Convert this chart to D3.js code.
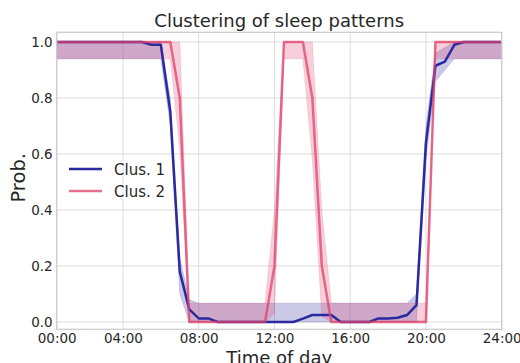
<!DOCTYPE html>
<html>
<head>
<meta charset="utf-8">
<script src="https://cdn.jsdelivr.net/npm/d3@7"></script>
<style>
  body { margin: 0; background: #fff; }
  text { font-family: "DejaVu Sans", sans-serif; fill: #262626; }
</style>
</head>
<body>
<div id="chart"></div>
<script>
// half-hour slots 0..47
const tickSlots  = [0, 7, 15, 23, 31, 39, 47];
const tickLabels = ['00:00', '04:00', '08:00', '12:00', '16:00', '20:00', '24:00'];
const yTicks     = [0, 0.2, 0.4, 0.6, 0.8, 1.0];

const clus1 = [1, 1, 1, 1, 1, 1, 1, 1, 1, 1, 0.99, 0.99,
               0.75, 0.18, 0.045, 0.013, 0.013, 0, 0, 0, 0, 0, 0, 0,
               0, 0, 0.012, 0.025, 0.025, 0.025, 0, 0, 0, 0, 0.013, 0.013,
               0.015, 0.025, 0.06, 0.64, 0.915, 0.93, 0.99, 1, 1, 1, 1, 1];
const clus1Lo = [0.94, 0.94, 0.94, 0.94, 0.94, 0.94, 0.94, 0.94, 0.94, 0.94, 0.94, 0.94,
                 0.7, 0.1, 0, 0, 0, 0, 0, 0, 0, 0, 0, 0,
                 0, 0, 0, 0, 0, 0, 0, 0, 0, 0, 0, 0,
                 0, 0, 0, 0.58, 0.86, 0.9, 0.94, 0.94, 0.94, 0.94, 0.94, 0.94];
const clus1Hi = [1, 1, 1, 1, 1, 1, 1, 1, 1, 1, 1, 1,
                 0.8, 0.23, 0.08, 0.067, 0.067, 0.067, 0.067, 0.067, 0.067, 0.067, 0.067, 0.067,
                 0.067, 0.067, 0.067, 0.067, 0.067, 0.067, 0.067, 0.067, 0.067, 0.067, 0.067, 0.067,
                 0.067, 0.067, 0.1, 0.7, 0.96, 0.98, 1, 1, 1, 1, 1, 1];

const clus2 = [1, 1, 1, 1, 1, 1, 1, 1, 1, 1, 1, 1,
               1, 0.8, 0, 0, 0, 0, 0, 0, 0, 0, 0, 0.2,
               1, 1, 1, 0.8, 0.2, 0, 0, 0, 0, 0, 0, 0,
               0, 0, 0, 0, 1, 1, 1, 1, 1, 1, 1, 1];
const clus2Lo = [0.94, 0.94, 0.94, 0.94, 0.94, 0.94, 0.94, 0.94, 0.94, 0.94, 0.94, 0.94,
                 0.94, 0.62, 0, 0, 0, 0, 0, 0, 0, 0, 0, 0.03,
                 0.94, 0.94, 0.94, 0.58, 0.02, 0, 0, 0, 0, 0, 0, 0,
                 0, 0, 0, 0, 0.94, 0.94, 0.94, 0.94, 0.94, 0.94, 0.94, 0.94];
const clus2Hi = [1, 1, 1, 1, 1, 1, 1, 1, 1, 1, 1, 1,
                 1, 1, 0.067, 0.067, 0.067, 0.067, 0.067, 0.067, 0.067, 0.067, 0.067, 0.4,
                 1, 1, 1, 1, 0.4, 0.067, 0.067, 0.067, 0.067, 0.067, 0.067, 0.067,
                 0.067, 0.067, 0.067, 0.067, 1, 1, 1, 1, 1, 1, 1, 1];

const seriesNames = ['Clus. 1', 'Clus. 2'];

const width = 520, height = 363;
const margin = { top: 32.3, right: 18.3, bottom: 33.7, left: 56.7 };

const svg = d3.select('#chart').append('svg')
  .attr('width', width)
  .attr('height', height)
  .attr('viewBox', [0, 0, width, height]);

const x = d3.scaleLinear().domain([0, 47]).range([margin.left, width - margin.right]);
const y = d3.scaleLinear().domain([-0.026, 1.0345]).range([height - margin.bottom, margin.top]);

const series = [
  { name: seriesNames[0], mean: clus1, lo: clus1Lo, hi: clus1Hi, color: '#2a2aa0', opacity: 1 },
  { name: seriesNames[1], mean: clus2, lo: clus2Lo, hi: clus2Hi, color: '#e0406a', opacity: 0.75 }
];

// grid
const grid = svg.append('g').attr('stroke', '#dddddd').attr('stroke-width', 1);
grid.selectAll('.gx').data(tickSlots).join('line')
  .attr('x1', d => x(d)).attr('x2', d => x(d))
  .attr('y1', margin.top).attr('y2', height - margin.bottom);
grid.selectAll('.gy').data(yTicks).join('line')
  .attr('x1', margin.left).attr('x2', width - margin.right)
  .attr('y1', d => y(d)).attr('y2', d => y(d));

// bands
const area = s => d3.area()
  .x((d, i) => x(i))
  .y0((d, i) => y(s.lo[i]))
  .y1((d, i) => y(s.hi[i]));

svg.append('g').selectAll('path').data(series).join('path')
  .attr('d', s => area(s)(s.mean))
  .attr('fill', s => s.color)
  .attr('fill-opacity', 0.25)
  .attr('stroke', s => s.color)
  .attr('stroke-opacity', 0.2)
  .attr('stroke-width', 0.8);

// mean lines
const line = d3.line().x((d, i) => x(i)).y(d => y(d));
svg.append('g').selectAll('path').data(series).join('path')
  .attr('d', s => line(s.mean))
  .attr('fill', 'none')
  .attr('stroke', s => s.color)
  .attr('stroke-opacity', s => s.opacity)
  .attr('stroke-width', 2.5)
  .attr('stroke-linejoin', 'round');

// frame
svg.append('rect')
  .attr('x', margin.left).attr('y', margin.top)
  .attr('width', width - margin.left - margin.right)
  .attr('height', height - margin.top - margin.bottom)
  .attr('fill', 'none').attr('stroke', '#cccccc').attr('stroke-width', 1.25);

// axes
const xAxis = svg.append('g')
  .attr('transform', `translate(0,${height - margin.bottom})`)
  .call(d3.axisBottom(x).tickValues(tickSlots).tickFormat((d, i) => tickLabels[i]).tickSize(0).tickPadding(4));
const yAxis = svg.append('g')
  .attr('transform', `translate(${margin.left},0)`)
  .call(d3.axisLeft(y).tickValues(yTicks).tickFormat(d3.format('.1f')).tickSize(0).tickPadding(4));
[xAxis, yAxis].forEach(a => {
  a.select('.domain').remove();
  a.selectAll('text').style('font-size', '13.5px').attr('fill', '#262626');
});

// title & labels
svg.append('text')
  .attr('x', (margin.left + width - margin.right) / 2).attr('y', 27)
  .attr('text-anchor', 'middle').style('font-size', '18px')
  .text('Clustering of sleep patterns');
svg.append('text')
  .attr('x', (margin.left + width - margin.right) / 2).attr('y', 364)
  .attr('text-anchor', 'middle').style('font-size', '18px')
  .text('Time of day');
svg.append('text')
  .attr('transform', `translate(25,${(margin.top + height - margin.bottom) / 2 - 3}) rotate(-90)`)
  .attr('text-anchor', 'middle').style('font-size', '19.5px')
  .text('Prob.');

// legend
const legend = svg.append('g').selectAll('g').data(series).join('g')
  .attr('transform', (d, i) => `translate(69,${169 + i * 22})`);
legend.append('line')
  .attr('x1', 0).attr('x2', 33)
  .attr('stroke', d => d.color)
  .attr('stroke-opacity', d => d.opacity)
  .attr('stroke-width', 2.5);
legend.append('text')
  .attr('x', 45).attr('y', 5.5)
  .style('font-size', '15px')
  .text(d => d.name);
</script>
</body>
</html>
